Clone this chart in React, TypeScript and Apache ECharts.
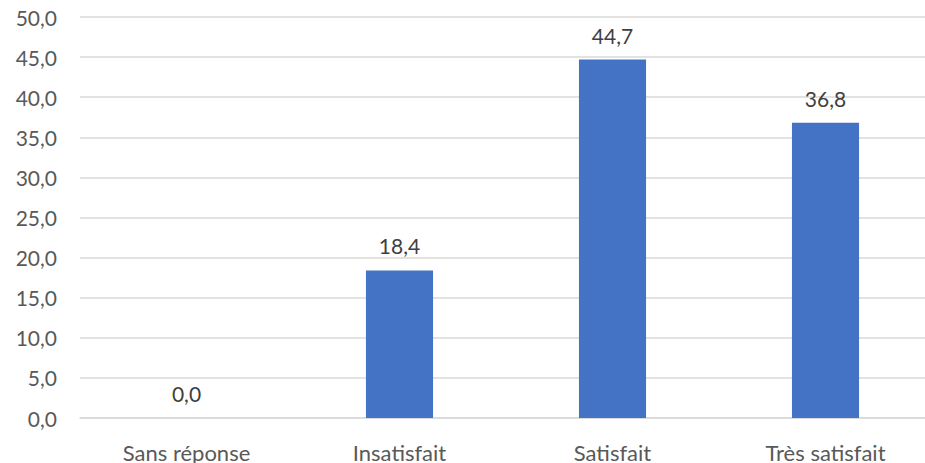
import React, { useEffect, useRef } from "react";
import * as echarts from "echarts";

const categories = ["Sans réponse", "Insatisfait", "Satisfait", "Très satisfait"];
const values = [0.0, 18.4, 44.7, 36.8];
const yMin = 0;
const yMax = 50;
const yInterval = 5;

const fmt = (v: number) => v.toFixed(1).replace(".", ",");

export default function App() {
  const ref = useRef<HTMLDivElement>(null);
  useEffect(() => {
    if (!ref.current) return;
    const chart = echarts.init(ref.current, null, { renderer: "svg" });
    const font = "Lato, 'Open Sans', sans-serif";
    chart.setOption({
      animation: false,
      backgroundColor: "#ffffff",
      grid: { left: 80, right: 0, top: 17, bottom: 44, containLabel: false },
      xAxis: {
        type: "category",
        data: categories,
        axisLine: { show: true, lineStyle: { color: "#D9D9D9", width: 1.5 } },
        axisTick: { show: false },
        axisLabel: {
          color: "#595959",
          fontFamily: font,
          fontSize: 22,
          margin: 23,
        },
      },
      yAxis: {
        type: "value",
        min: yMin,
        max: yMax,
        interval: yInterval,
        axisLine: { show: false },
        axisTick: { show: false },
        splitLine: { lineStyle: { color: "#D9D9D9", width: 1.5 } },
        axisLabel: {
          color: "#595959",
          fontFamily: font,
          fontSize: 21,
          margin: 23,
          formatter: (v: number) => fmt(v),
        },
      },
      series: [
        {
          type: "bar",
          data: values,
          barWidth: "31.5%",
          itemStyle: { color: "#4472C4" },
          label: {
            show: true,
            position: "top",
            distance: 14,
            color: "#404040",
            fontFamily: font,
            fontSize: 21,
            formatter: (p: any) => fmt(p.value),
          },
        },
      ],
    });
    return () => chart.dispose();
  }, []);
  return (
    <div
      style={{
        position: "fixed",
        left: 0,
        top: 0,
        width: 925,
        height: 463,
        overflow: "hidden",
        background: "#ffffff",
      }}
    >
      <div ref={ref} style={{ width: 932, height: 463 }} />
    </div>
  );
}
